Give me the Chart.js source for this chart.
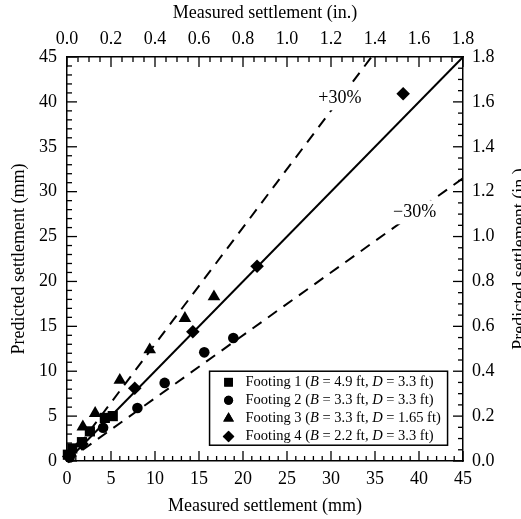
<!DOCTYPE html>
<html>
<head>
<meta charset="utf-8">
<script src="https://cdn.jsdelivr.net/npm/chart.js@4.4.1/dist/chart.umd.min.js"></script>
<style>
  html, body { margin: 0; padding: 0; background: #fff; overflow: hidden; }
</style>
</head>
<body>
<canvas id="chart" width="521" height="519"></canvas>
<script>
// ─── Data (mm) ────────────────────────────────────────────────────────────────
const footing1X = [0.1, 0.6, 1.7, 2.6, 4.3, 5.2];
const footing1Y = [0.7, 1.4, 2.1, 3.3, 4.8, 5.0];
const footing2X = [0.3, 4.1, 8.0, 11.1, 15.6, 18.9];
const footing2Y = [0.4, 3.7, 5.9, 8.7, 12.1, 13.7];
const footing3X = [0.4, 1.8, 3.2, 6.0, 9.4, 13.4, 16.7];
const footing3Y = [0.9, 3.8, 5.3, 9.0, 12.4, 15.9, 18.3];
const footing4X = [0.2, 1.7, 7.7, 14.3, 21.6, 38.2];
const footing4Y = [0.5, 1.9, 8.1, 14.4, 21.7, 40.9];

// reference lines: 1:1, +30 %, -30 %
const lineEqualX = [0, 45];
const lineEqualY = [0, 45];
const linePlusX = [0, 34.6];
const linePlusY = [0, 45];
const lineMinusX = [0, 45];
const lineMinusY = [0, 31.5];

// line labels
const lineLabels = ['+30%', '\u221230%'];
const lineLabelX = [31.0, 39.5];
const lineLabelY = [40.4, 27.7];

// legend
const footingNames = ['Footing 1', 'Footing 2', 'Footing 3', 'Footing 4'];
const footingB = ['4.9', '3.3', '3.3', '2.2'];
const footingD = ['3.3', '3.3', '1.65', '3.3'];
const footingStyles = ['rect', 'circle', 'triangle', 'rectRot'];
const footingRadius = [7.2, 5.3, 7.3, 6.8];

// axes
const mmMax = 45, mmStep = 5;
const inMax = 1.8, inStep = 0.2;

const FONT = "'Liberation Serif', 'Times New Roman', serif";
const INK = '#000';

const pts = (xs, ys) => xs.map((x, i) => ({ x, y: ys[i] }));

function scatterSet(label, xs, ys, idx) {
  return {
    type: 'scatter', label, data: pts(xs, ys),
    pointStyle: footingStyles[idx], pointRadius: footingRadius[idx], pointHoverRadius: footingRadius[idx],
    backgroundColor: INK, borderColor: INK, borderWidth: 0, clip: false
  };
}
function refLine(xs, ys, dashed) {
  return {
    type: 'line', data: pts(xs, ys), borderColor: INK, borderWidth: 2,
    borderDash: dashed ? [11, 8] : [], pointRadius: 0, fill: false, tension: 0
  };
}

// ─── Plugin: inward ticks, annotations, right title, legend ───────────────────
const extras = {
  id: 'extras',
  beforeDatasetsDraw(chart) {
    const { ctx, chartArea: a, scales } = chart;
    ctx.save();
    ctx.strokeStyle = INK; ctx.lineWidth = 1.3;
    const mark = (p, side, len) => {
      ctx.beginPath();
      if (side === 'bottom') { ctx.moveTo(p, a.bottom); ctx.lineTo(p, a.bottom - len); }
      if (side === 'top') { ctx.moveTo(p, a.top); ctx.lineTo(p, a.top + len); }
      if (side === 'left') { ctx.moveTo(a.left, p); ctx.lineTo(a.left + len, p); }
      if (side === 'right') { ctx.moveTo(a.right, p); ctx.lineTo(a.right - len, p); }
      ctx.stroke();
    };
    for (let i = 0; i <= mmMax; i++) {
      const len = i % mmStep === 0 ? 10 : 5;
      mark(scales.x.getPixelForValue(i), 'bottom', len);
      mark(scales.y.getPixelForValue(i), 'left', len);
    }
    for (let i = 0; i <= 36; i++) {
      const len = i % 4 === 0 ? 10 : 5;
      mark(scales.x2.getPixelForValue(i * 0.05), 'top', len);
      mark(scales.y2.getPixelForValue(i * 0.05), 'right', len);
    }
    ctx.restore();
  },
  afterDatasetsDraw(chart) {
    const { ctx, scales } = chart;
    ctx.save();
    ctx.font = `18px ${FONT}`;
    ctx.textAlign = 'center'; ctx.textBaseline = 'middle';
    lineLabels.forEach((t, i) => {
      const px = scales.x.getPixelForValue(lineLabelX[i]);
      const py = scales.y.getPixelForValue(lineLabelY[i]);
      const w = ctx.measureText(t).width + 6;
      ctx.fillStyle = '#fff';
      ctx.fillRect(px - w / 2, py - 12, w, 24);
      ctx.fillStyle = INK;
      ctx.fillText(t, px, py);
    });
    ctx.restore();
  },
  afterDraw(chart) {
    const { ctx, scales } = chart;
    const sx = scales.x, sy = scales.y;
    ctx.save();
    ctx.fillStyle = INK;
    ctx.font = `18px ${FONT}`;
    ctx.textAlign = 'center'; ctx.textBaseline = 'middle';
    // right axis title, reading bottom to top
    ctx.translate(520, (chart.chartArea.top + chart.chartArea.bottom) / 2);
    ctx.rotate(-Math.PI / 2);
    ctx.fillText('Predicted settlement (in.)', 0, 0);
    ctx.restore();

    // legend box
    const L = sx.getPixelForValue(16.2), T = sy.getPixelForValue(10.0);
    const W = 238, H = 74;
    ctx.save();
    ctx.fillStyle = '#fff';
    ctx.fillRect(L, T, W, H);
    ctx.strokeStyle = INK; ctx.lineWidth = 1.5;
    ctx.strokeRect(L, T, W, H);
    ctx.fillStyle = INK; ctx.strokeStyle = INK;
    ctx.textBaseline = 'middle'; ctx.textAlign = 'left';
    footingNames.forEach((name, i) => {
      const yy = T + 11 + i * 18.1;
      Chart.helpers.drawPoint(ctx, { pointStyle: footingStyles[i], radius: footingRadius[i] * 0.85, borderWidth: 0 }, L + 19, yy);
      ctx.fill();
      const segs = [[name + ' (', false], ['B', true], [' = ' + footingB[i] + ' ft, ', false], ['D', true], [' = ' + footingD[i] + ' ft)', false]];
      let xx = L + 36;
      segs.forEach(([t, it]) => {
        ctx.font = `${it ? 'italic ' : ''}14.5px ${FONT}`;
        ctx.fillText(t, xx, yy);
        xx += ctx.measureText(t).width;
      });
    });
    ctx.restore();
  }
};

const axisBorder = { display: true, color: INK, width: 1.5 };
const noGrid = { display: false, drawTicks: false };
const tickFont = { family: FONT, size: 18 };
const titleFont = { family: FONT, size: 18 };

new Chart(document.getElementById('chart'), {
  data: {
    datasets: [
      refLine(lineEqualX, lineEqualY, false),
      refLine(linePlusX, linePlusY, true),
      refLine(lineMinusX, lineMinusY, true),
      scatterSet('Footing 1', footing1X, footing1Y, 0),
      scatterSet('Footing 2', footing2X, footing2Y, 1),
      scatterSet('Footing 3', footing3X, footing3Y, 2),
      scatterSet('Footing 4', footing4X, footing4Y, 3)
    ]
  },
  options: {
    responsive: false,
    animation: false,
    events: [],
    layout: { padding: 0 },
    plugins: { legend: { display: false }, tooltip: { enabled: false } },
    scales: {
      x: {
        type: 'linear', position: 'bottom', min: 0, max: mmMax,
        grid: noGrid, border: axisBorder,
        ticks: { stepSize: mmStep, font: tickFont, color: INK, padding: 7 },
        title: { display: true, text: 'Measured settlement (mm)', font: titleFont, color: INK, padding: { top: 0, bottom: 1.5 } },
        afterFit: s => { s.height = 58; }
      },
      x2: {
        type: 'linear', position: 'top', min: 0, max: inMax,
        grid: noGrid, border: axisBorder,
        ticks: { stepSize: inStep, font: tickFont, color: INK, padding: 7, callback: v => v.toFixed(1) },
        title: { display: true, text: 'Measured settlement (in.)', font: titleFont, color: INK, padding: { top: 2.5, bottom: 0 } },
        afterFit: s => { s.height = 57; }
      },
      y: {
        type: 'linear', position: 'left', min: 0, max: mmMax,
        grid: noGrid, border: axisBorder,
        ticks: { stepSize: mmStep, font: tickFont, color: INK, padding: 10 },
        title: { display: true, text: 'Predicted settlement (mm)', font: titleFont, color: INK, padding: { top: 8, bottom: 0 } },
        afterFit: s => { s.width = 67; }
      },
      y2: {
        type: 'linear', position: 'right', min: 0, max: inMax,
        grid: noGrid, border: axisBorder,
        ticks: { stepSize: inStep, font: tickFont, color: INK, padding: 9, callback: v => v.toFixed(1) },
        title: { display: false },
        afterFit: s => { s.width = 58; }
      }
    }
  },
  plugins: [extras]
});
</script>
</body>
</html>
